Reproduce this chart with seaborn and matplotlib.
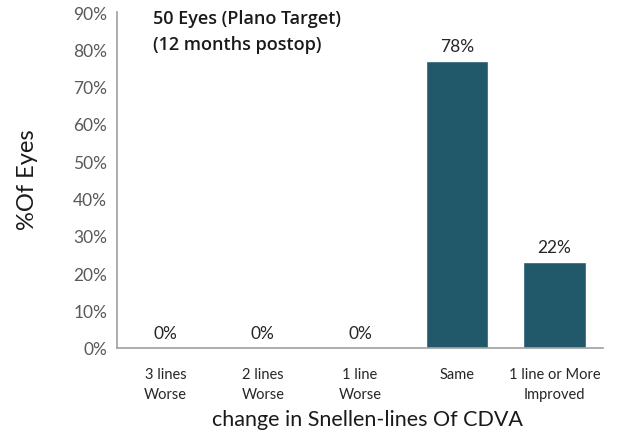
import matplotlib
matplotlib.use("Agg")
import matplotlib.pyplot as plt
import seaborn as sns
import pandas as pd

categories = ["3 lines\nWorse", "2 lines\nWorse", "1 line\nWorse", "Same", "1 line or More\nImproved"]
values = [0, 0, 0, 77, 23]
value_labels = ["0%", "0%", "0%", "78%", "22%"]
yticks = [0, 10, 20, 30, 40, 50, 60, 70, 80, 90]
ytick_labels = ["0%", "10%", "20%", "30%", "40%", "50%", "60%", "70%", "80%", "90%"]
title_lines = ["50 Eyes (Plano Target)", "(12 months postop)"]

sns.set_style("white")
plt.rcParams['font.family'] = ['Lato', 'DejaVu Sans']

df = pd.DataFrame({"cat": categories, "val": values})

fig = plt.figure(figsize=(6.19, 4.39), dpi=100)
ax = fig.add_axes([117/619, 1-349/439, (603-117)/619, (349-13)/439])

sns.barplot(data=df, x="cat", y="val", color="#21596A", width=0.64,
            saturation=1, ax=ax)

ax.set_ylim(0, 90)
ax.set_yticks(yticks)
ax.set_yticklabels(ytick_labels, fontsize=12.5, color="#595959")
ax.tick_params(axis="y", length=4, width=1, color="#A0A0A0", direction="out", pad=3)
ax.tick_params(axis="x", length=0, labelsize=10.5, labelcolor="#262626", pad=14)
for lab in ax.get_xticklabels():
    lab.set_linespacing(1.55)

for side in ["top", "right"]:
    ax.spines[side].set_visible(False)
for side in ["left", "bottom"]:
    ax.spines[side].set_color("#A0A0A0")
    ax.spines[side].set_linewidth(1.2)

for p, lab in zip(ax.patches, value_labels):
    ax.annotate(lab, (p.get_x() + p.get_width()/2, p.get_height()),
                xytext=(0, 5), textcoords="offset points",
                ha="center", va="bottom", fontsize=12.5, color="#262626")

ax.set_xlabel("change in Snellen-lines Of CDVA", fontsize=15.5, color="#1a1a1a",
              va="center", ha="center")
ax.xaxis.set_label_coords((367-117)/486, (349-420)/336)
ax.set_ylabel("%Of Eyes", fontsize=17, color="#1a1a1a", va="center", ha="center")
ax.yaxis.set_label_coords((27-117)/486, 0.5 - (180-181)/336)

for yy, line in zip([19, 45], title_lines):
    fig.text(153/619, 1-yy/439, line,
             fontsize=13, fontweight="semibold", color="#1a1a1a", va="center",
             family=["Open Sans", "DejaVu Sans"])

fig.savefig("out.png", dpi=100)
